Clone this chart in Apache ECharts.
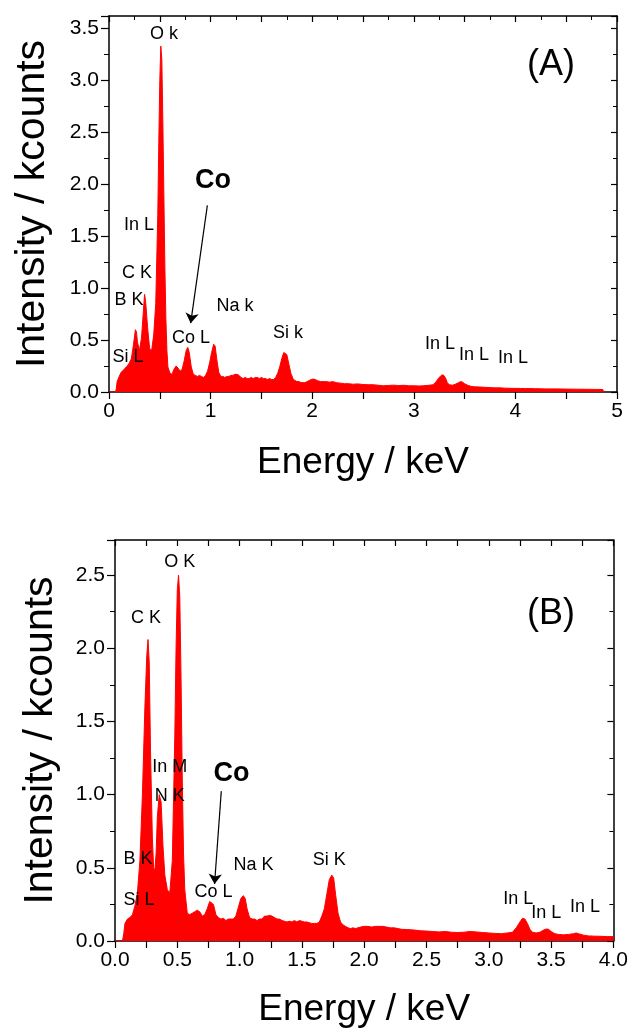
<!DOCTYPE html>
<html><head><meta charset="utf-8">
<script src="https://cdn.jsdelivr.net/npm/echarts@6/dist/echarts.min.js"></script>
<style>html,body{margin:0;padding:0;background:#fff}#c{width:631px;height:1029px}</style>
</head><body><div id="c"></div>
<script>
// ---- Panel A spectrum (energy keV, intensity kcounts) ----
const energyA = [0,0.06,0.07,0.08,0.10,0.12,0.14,0.16,0.18,0.20,0.22,0.24,0.26,0.27,0.28,0.30,0.32,0.34,0.35,0.36,0.38,0.40,0.42,0.44,0.46,0.48,0.49,0.50,0.51,0.52,0.53,0.54,0.55,0.56,0.57,0.58,0.60,0.62,0.64,0.66,0.68,0.70,0.72,0.74,0.76,0.775,0.79,0.81,0.83,0.85,0.87,0.89,0.91,0.93,0.95,0.97,0.99,1.01,1.03,1.045,1.06,1.08,1.10,1.12,1.14,1.16,1.18,1.20,1.22,1.24,1.26,1.28,1.30,1.32,1.34,1.36,1.38,1.40,1.42,1.44,1.46,1.48,1.50,1.52,1.54,1.56,1.58,1.60,1.62,1.64,1.66,1.68,1.70,1.72,1.735,1.75,1.77,1.79,1.81,1.83,1.85,1.87,1.89,1.91,1.93,1.95,1.97,1.99,2.01,2.03,2.05,2.08,2.11,2.14,2.17,2.20,2.24,2.28,2.32,2.36,2.40,2.45,2.50,2.55,2.60,2.65,2.70,2.75,2.80,2.85,2.90,2.95,3.00,3.05,3.10,3.15,3.19,3.22,3.25,3.27,3.29,3.31,3.33,3.35,3.38,3.41,3.44,3.46,3.48,3.50,3.53,3.56,3.60,3.65,3.70,3.75,3.80,3.85,3.90,3.95,4.00,4.05,4.10,4.20,4.30,4.40,4.50,4.60,4.70,4.80,4.86,4.87];
const countsA = [0,0,0.02,0.10,0.15,0.19,0.21,0.23,0.25,0.28,0.32,0.45,0.60,0.58,0.48,0.40,0.52,0.80,0.94,0.88,0.62,0.42,0.40,0.55,0.85,1.70,2.40,3.00,3.33,3.20,2.60,1.90,1.20,0.70,0.40,0.24,0.18,0.17,0.22,0.25,0.23,0.20,0.22,0.30,0.40,0.43,0.38,0.24,0.17,0.16,0.15,0.16,0.15,0.14,0.16,0.20,0.28,0.38,0.46,0.44,0.32,0.19,0.15,0.15,0.14,0.15,0.15,0.16,0.16,0.17,0.17,0.16,0.14,0.13,0.14,0.13,0.13,0.14,0.13,0.14,0.14,0.13,0.14,0.13,0.13,0.12,0.13,0.12,0.12,0.14,0.18,0.24,0.32,0.38,0.39,0.36,0.27,0.18,0.13,0.11,0.10,0.10,0.09,0.09,0.09,0.10,0.11,0.12,0.125,0.12,0.11,0.10,0.10,0.10,0.095,0.10,0.09,0.085,0.08,0.08,0.075,0.078,0.072,0.07,0.07,0.065,0.06,0.063,0.066,0.062,0.065,0.06,0.06,0.058,0.06,0.065,0.07,0.10,0.14,0.16,0.165,0.14,0.09,0.07,0.065,0.075,0.09,0.10,0.095,0.08,0.065,0.055,0.05,0.048,0.045,0.042,0.04,0.04,0.037,0.035,0.035,0.034,0.033,0.032,0.03,0.03,0.028,0.027,0.026,0.025,0.024,0];

// ---- Panel B spectrum ----
const energyB = [0,0.06,0.07,0.08,0.10,0.12,0.14,0.16,0.18,0.20,0.22,0.24,0.255,0.265,0.275,0.285,0.30,0.31,0.32,0.33,0.34,0.355,0.37,0.385,0.40,0.42,0.44,0.46,0.48,0.49,0.50,0.51,0.52,0.53,0.54,0.55,0.56,0.58,0.60,0.62,0.64,0.66,0.68,0.70,0.72,0.74,0.76,0.775,0.79,0.81,0.83,0.85,0.87,0.89,0.91,0.93,0.95,0.97,0.99,1.01,1.03,1.045,1.06,1.08,1.10,1.12,1.14,1.16,1.18,1.20,1.22,1.24,1.26,1.28,1.30,1.32,1.34,1.36,1.38,1.40,1.42,1.44,1.46,1.48,1.50,1.52,1.54,1.56,1.58,1.60,1.62,1.64,1.66,1.68,1.70,1.72,1.74,1.755,1.77,1.79,1.81,1.83,1.85,1.87,1.89,1.91,1.93,1.95,1.97,2.00,2.03,2.06,2.09,2.12,2.15,2.18,2.21,2.24,2.27,2.30,2.35,2.40,2.45,2.50,2.55,2.60,2.65,2.70,2.75,2.80,2.85,2.90,2.95,3.00,3.05,3.10,3.15,3.19,3.22,3.25,3.27,3.29,3.31,3.33,3.35,3.38,3.41,3.44,3.46,3.48,3.50,3.53,3.56,3.60,3.64,3.68,3.70,3.72,3.76,3.80,3.85,3.90,3.95,4.00];
const countsB = [0,0,0.05,0.12,0.15,0.16,0.18,0.24,0.33,0.55,1.00,1.60,1.95,2.06,1.90,1.30,0.70,0.50,0.48,0.60,0.85,1.00,0.95,0.65,0.45,0.35,0.33,0.55,1.40,2.00,2.40,2.50,2.35,1.80,1.10,0.60,0.35,0.19,0.18,0.19,0.20,0.21,0.20,0.17,0.18,0.22,0.27,0.28,0.25,0.18,0.16,0.15,0.155,0.14,0.15,0.15,0.15,0.17,0.23,0.29,0.31,0.29,0.22,0.16,0.15,0.15,0.14,0.15,0.15,0.17,0.17,0.175,0.17,0.16,0.15,0.15,0.14,0.135,0.13,0.135,0.13,0.14,0.13,0.14,0.135,0.13,0.13,0.125,0.12,0.12,0.12,0.13,0.17,0.22,0.32,0.42,0.45,0.43,0.32,0.19,0.13,0.11,0.10,0.09,0.085,0.09,0.085,0.09,0.095,0.10,0.10,0.095,0.10,0.10,0.10,0.095,0.09,0.09,0.085,0.08,0.078,0.075,0.07,0.068,0.065,0.062,0.065,0.06,0.058,0.06,0.065,0.062,0.058,0.055,0.052,0.05,0.055,0.06,0.09,0.13,0.155,0.15,0.12,0.08,0.06,0.055,0.06,0.075,0.082,0.08,0.065,0.05,0.045,0.042,0.045,0.05,0.055,0.05,0.04,0.035,0.033,0.032,0.03,0.03];

// ---- Peak annotations: [energy, intensity] anchor of each label ----
const labelsA = ['O k','In L','C K','B K','Si L','Co L','Na k','Si k','In L','In L','In L'];
const labelPosA = [[0.541,3.451],[0.295,1.606],[0.276,1.147],[0.197,0.889],[0.187,0.335],[0.807,0.516],[1.240,0.832],[1.762,0.564],[3.258,0.459],[3.593,0.354],[3.976,0.325]];
const labelsB = ['O K','C K','In M','N K','B K','Si L','Co L','Na K','Si K','In L','In L','In L'];
const labelPosB = [[0.520,2.592],[0.248,2.205],[0.440,1.187],[0.440,0.991],[0.184,0.563],[0.192,0.278],[0.791,0.332],[1.111,0.516],[1.719,0.550],[3.237,0.285],[3.461,0.190],[3.773,0.231]];
const coPosA = [1.024,2.036], coArrowA = [[0.968,1.797],[0.804,0.663]];
const coPosB = [0.935,1.147], coArrowB = [[0.853,1.024],[0.799,0.389]];

const yTicksA = {min:0, max:3.62, interval:0.5};
const yTicksB = {min:0, max:2.74, interval:0.5};

const FONT = '"Liberation Sans", Arial, sans-serif';
const axLine = {show:true, onZero:false, lineStyle:{color:'#000', width:1.5}};

function bottomX(grid, max, interval, labelStep, gap){
  return {type:'value', gridIndex:grid, position:'bottom', min:0, max:max, interval:interval,
    axisLine:axLine, splitLine:{show:false},
    axisTick:{show:true, inside:false, length:7, lineStyle:{color:'#000', width:1.2}},
    axisLabel:{show:true, interval:0, color:'#000', fontFamily:FONT, fontSize:21, margin:9,
      showMinLabel:true, showMaxLabel:true,
      formatter:v => (Math.abs(v/labelStep - Math.round(v/labelStep))<1e-6) ? (labelStep<1 ? v.toFixed(1) : String(Math.round(v))) : ''},
    name:'Energy / keV', nameLocation:'middle', nameGap:gap,
    nameTextStyle:{color:'#000', fontFamily:FONT, fontSize:37}};
}
function topX(grid, max, interval, minor){
  return {type:'value', gridIndex:grid, position:'top', min:0, max:max, interval:interval,
    axisLine:axLine, splitLine:{show:false}, axisLabel:{show:false},
    axisTick:{show:true, inside:true, length:6, lineStyle:{color:'#000', width:1.2}},
    minorTick:{show:minor, splitNumber:2, length:4, lineStyle:{color:'#000', width:1}}};
}
function leftY(grid, t, gap){
  return {type:'value', gridIndex:grid, position:'left', min:t.min, max:t.max, interval:t.interval,
    axisLine:axLine, splitLine:{show:false},
    axisTick:{show:true, inside:false, length:8, lineStyle:{color:'#000', width:1.2}},
    minorTick:{show:true, splitNumber:2, length:5, lineStyle:{color:'#000', width:1}},
    axisLabel:{color:'#000', fontFamily:FONT, fontSize:21, margin:10, showMaxLabel:false,
      formatter:v => (Math.abs(v/0.5 - Math.round(v/0.5))<1e-6) ? v.toFixed(1) : ''},
    name:'Intensity / kcounts', nameLocation:'middle', nameGap:gap, nameRotate:90,
    nameTextStyle:{color:'#000', fontFamily:FONT, fontSize:41}};
}
function rightY(grid, t){
  return {type:'value', gridIndex:grid, position:'right', min:t.min, max:t.max, interval:t.interval,
    axisLine:axLine, splitLine:{show:false}, axisLabel:{show:false},
    axisTick:{show:true, inside:true, length:6, lineStyle:{color:'#000', width:1.2}},
    minorTick:{show:true, splitNumber:2, length:4, lineStyle:{color:'#000', width:1}}};
}

function spectrum(xi, yi, E, C){
  return {type:'line', xAxisIndex:xi, yAxisIndex:yi, data:E.map((e,i)=>[e,C[i]]),
    showSymbol:false, symbol:'none', smooth:false,
    lineStyle:{color:'#ff0000', width:1}, areaStyle:{color:'#ff0000', opacity:1}, z:2};
}
function labels(xi, yi, names, pos, coPos, arrow){
  const data = names.map((n,i)=>({value:pos[i], name:n}));
  data.push({value:coPos, name:'Co', label:{fontSize:27, fontWeight:'bold'}});
  return {type:'scatter', xAxisIndex:xi, yAxisIndex:yi, symbolSize:1,
    itemStyle:{color:'#000', opacity:0},
    label:{show:true, position:'inside', formatter:'{b}', color:'#000000', opacity:1,
      textBorderWidth:0, fontFamily:FONT, fontSize:18},
    emphasis:{disabled:true},
    data:data, z:5, silent:true,
    markLine:{silent:true, symbol:['none','arrow'], symbolSize:10, animation:false,
      lineStyle:{color:'#000', width:1.2, type:'solid', opacity:1}, label:{show:false},
      data:[[{coord:arrow[0]},{coord:arrow[1]}]]}};
}

const chart = echarts.init(document.getElementById('c'), null, {renderer:'canvas'});
chart.setOption({
  animation:false, backgroundColor:'#fff',
  grid:[{left:109, top:16, width:508, height:376},{left:115, top:540, width:500, height:404}],
  xAxis:[bottomX(0,5,0.5,1,52), topX(0,5,0.5,true), bottomX(1,4,0.25,0.5,50), topX(1,4,0.25,false)],
  yAxis:[leftY(0,yTicksA,56), rightY(0,yTicksA), leftY(1,yTicksB,54), rightY(1,yTicksB)],
  series:[spectrum(0,0,energyA,countsA), spectrum(2,2,energyB,countsB),
    labels(0,0,labelsA,labelPosA,coPosA,coArrowA), labels(2,2,labelsB,labelPosB,coPosB,coArrowB)],
  graphic:[
    {type:'text', left:527, top:47, style:{text:'(A)', font:'36px '+FONT, fill:'#000'}},
    {type:'text', left:527, top:596, style:{text:'(B)', font:'36px '+FONT, fill:'#000'}}
  ]
});
</script></body></html>
